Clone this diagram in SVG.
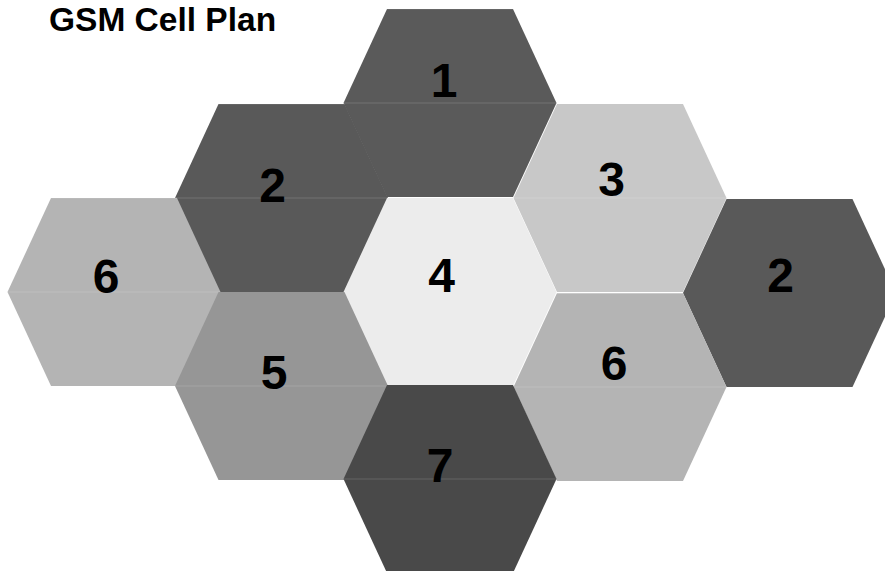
<svg xmlns="http://www.w3.org/2000/svg" xmlns:xlink="http://www.w3.org/1999/xlink" width="885" height="571" viewBox="0 0 885 571">
  <style>
    .title { font-family: "Liberation Sans", Arial, sans-serif; font-weight: bold; font-size: 33.5px; fill: #000; }
    .num { font-family: "Liberation Sans", Arial, sans-serif; font-weight: bold; font-size: 48px; fill: #000; text-anchor: middle; }
    .mid { stroke: #ffffff; stroke-opacity: 0.15; stroke-width: 1.2; }
    .c1 { fill: #5a5a5a; }
    .c2 { fill: #595959; }
    .c3 { fill: #c8c8c8; }
    .c4 { fill: #ececec; }
    .c5 { fill: #969696; }
    .c6 { fill: #b4b4b4; }
    .c7 { fill: #494949; }
  </style>
  <defs>
    <polygon id="hex" points="-106.5,0 -63,-94 63,-94 106.5,0 63,94 -63,94"/>
    <line id="midline" class="mid" x1="-106.5" y1="0" x2="106.5" y2="0"/>
    <line id="topline" class="mid" x1="-63" y1="-94" x2="63" y2="-94"/>
  </defs>
  <rect x="0" y="0" width="885" height="571" fill="#ffffff"/>
  <text class="title" x="49" y="31">GSM Cell Plan</text>

  <g id="cell-1" transform="translate(450,103)">
    <use xlink:href="#hex" class="c1"/>
    <use xlink:href="#midline"/>
    <use xlink:href="#topline"/>
    <text class="num" x="-6" y="-6">1</text>
  </g>
  <g id="cell-2-left" transform="translate(281.5,198)">
    <use xlink:href="#hex" class="c2"/>
    <use xlink:href="#midline"/>
    <use xlink:href="#topline"/>
    <text class="num" x="-9" y="4">2</text>
  </g>
  <g id="cell-3" transform="translate(620,198)">
    <use xlink:href="#hex" class="c3"/>
    <use xlink:href="#midline"/>
    <text class="num" x="-8.5" y="-2">3</text>
  </g>
  <g id="cell-6-left" transform="translate(114,292)">
    <use xlink:href="#hex" class="c6"/>
    <use xlink:href="#midline"/>
    <use xlink:href="#topline"/>
    <text class="num" x="-8" y="1">6</text>
  </g>
  <g id="cell-4" transform="translate(450,292)">
    <use xlink:href="#hex" class="c4"/>
    <text class="num" x="-8.5" y="0">4</text>
  </g>
  <g id="cell-2-right" transform="translate(789.5,293)">
    <use xlink:href="#hex" class="c2"/>
    <text class="num" x="-9" y="-1">2</text>
  </g>
  <g id="cell-5" transform="translate(281.5,386)">
    <use xlink:href="#hex" class="c5"/>
    <use xlink:href="#midline"/>
    <text class="num" x="-7.5" y="3">5</text>
  </g>
  <g id="cell-6-right" transform="translate(620,387)">
    <use xlink:href="#hex" class="c6"/>
    <use xlink:href="#midline"/>
    <line x1="-63" y1="-94" x2="63" y2="-94" stroke="#ffffff" stroke-opacity="0.6" stroke-width="1.2"/>
    <text class="num" x="-6" y="-7">6</text>
  </g>
  <g id="cell-7" transform="translate(450,479)">
    <use xlink:href="#hex" class="c7"/>
    <use xlink:href="#midline"/>
    <text class="num" x="-10" y="3">7</text>
  </g>
  <g id="connectors"/>
</svg>
